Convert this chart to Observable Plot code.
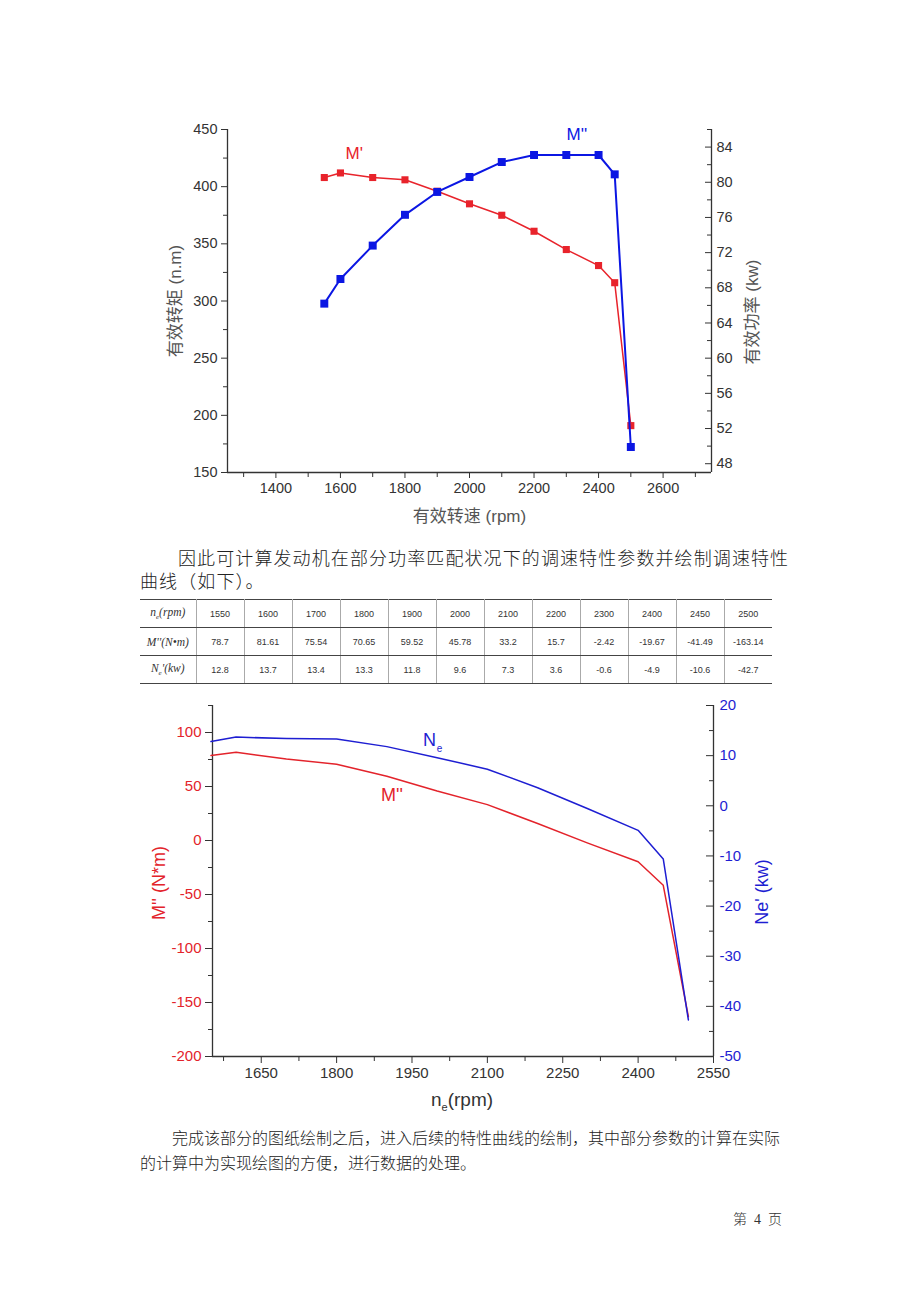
<!DOCTYPE html>
<html><head><meta charset="utf-8">
<script src="https://cdn.jsdelivr.net/npm/d3@7"></script>
<script src="https://cdn.jsdelivr.net/npm/@observablehq/plot@0.6"></script>
<style>
body{margin:0;background:#fff;}
#page{position:relative;width:920px;height:1302px;overflow:hidden;background:#fff;font-family:"Noto Sans CJK SC",sans-serif;color:#222;}
.abs{position:absolute;white-space:nowrap;}
.p1{font-size:18px;letter-spacing:1.1px;line-height:24px;font-weight:300;}
.p2{font-size:16px;line-height:22px;font-weight:300;}
#tbl{position:absolute;left:140px;top:599px;border-collapse:collapse;table-layout:fixed;}
#tbl td{height:27px;padding:0;text-align:center;font-family:"Liberation Sans",Arial,sans-serif;font-size:9px;color:#333;border-left:1px solid #aaa;border-right:1px solid #aaa;border-top:1px solid #444;border-bottom:1px solid #444;}
#tbl td.lab{font-family:"Liberation Serif","DejaVu Serif",serif;font-style:italic;font-size:11.5px;border-left:none;}
#tbl td:last-child{border-right:none;}
#tbl td sub{font-size:7px;}
#c2x{position:absolute;left:362px;width:200px;top:1089px;text-align:center;font-family:"Liberation Sans",Arial,sans-serif;font-size:19px;color:#333;}
#c2x sub{font-size:11px;}
#foot span{display:inline-block;}
</style></head>
<body><div id="page">
<div id="chart1" class="abs" style="left:0;top:100px;"></div>
<div class="abs p1" style="left:178px;top:545px;">因此可计算发动机在部分功率匹配状况下的调速特性参数并绘制调速特性</div>
<div class="abs p1" style="left:140px;top:568px;">曲线（如下）。</div>
<table id="tbl"></table>
<div id="chart2" class="abs" style="left:0;top:690px;"></div>
<div id="c2x">n<sub>e</sub>(rpm)</div>
<div class="abs p2" style="left:172px;top:1126px;">完成该部分的图纸绘制之后，进入后续的特性曲线的绘制，其中部分参数的计算在实际</div>
<div class="abs p2" style="left:140px;top:1151px;">的计算中为实现绘图的方便，进行数据的处理。</div>
<div id="foot" class="abs" style="left:733px;top:1208px;font-size:14px;color:#333;font-weight:300;"><span>第</span><span style="margin-left:7px;font-family:'Liberation Serif',serif;">4</span><span style="margin-left:7px;">页</span></div>
</div>
<script>
// ---------- data ----------
const rpm1 = [1550,1600,1700,1800,1900,2000,2100,2200,2300,2400,2450,2500];
const torque1 = [408,412,408,406,396,385,375,361,345,331,316,191];   // M' (n.m)
const power1 = [66.2,69.0,72.8,76.3,78.9,80.6,82.3,83.1,83.1,83.1,80.9,49.9]; // M'' (kw)

const rpm2 = [1550,1600,1700,1800,1900,2000,2100,2200,2300,2400,2450,2500];
const torque2 = [78.7,81.61,75.54,70.65,59.52,45.78,33.2,15.7,-2.42,-19.67,-41.49,-163.14];
const power2 = [12.8,13.7,13.4,13.3,11.8,9.6,7.3,3.6,-0.6,-4.9,-10.6,-42.7];

const x1Ticks = [1400,1600,1800,2000,2200,2400,2600];
const y1LeftTicks = [150,200,250,300,350,400,450];
const y1RightTicks = [48,52,56,60,64,68,72,76,80,84];
const x2Ticks = [1650,1800,1950,2100,2250,2400,2550];
const y2LeftTicks = [-200,-150,-100,-50,0,50,100];
const y2RightTicks = [-50,-40,-30,-20,-10,0,10,20];

const rowLabels = ["n<sub>e</sub>(rpm)", "M''(N&#8226;m)", "N<sub>e</sub>'(kw)"];

// ---------- table ----------
const tbl = document.getElementById("tbl");
const colg = document.createElement("colgroup");
colg.innerHTML = `<col style="width:56px">` + rpm2.map(()=>`<col style="width:48px">`).join("");
tbl.appendChild(colg);
[rpm2, torque2, power2].forEach((row, r) => {
  const tr = document.createElement("tr");
  tr.innerHTML = `<td class="lab">${rowLabels[r]}</td>` + row.map(v => `<td>${v}</td>`).join("");
  tbl.appendChild(tr);
});

const AX = "#333";
const FONT = "Liberation Sans, Arial, Noto Sans CJK SC, sans-serif";
const plain = d => String(d);

// ---------- chart 1 ----------
{
  const RED = "#e8232b", BLUE = "#0b16e3";
  const X = [1250, 2750], YL = [150, 450], YR = [47, 86];
  const toL = r => YL[0] + (r - YR[0]) * (YL[1] - YL[0]) / (YR[1] - YR[0]);
  const fromL = v => YR[0] + (v - YL[0]) * (YR[1] - YR[0]) / (YL[1] - YL[0]);
  const mL = 227, mR = 209, W = 920 - mL - mR;
  const data = rpm1.map((x, i) => ({rpm: x, torque: torque1[i], power: toL(power1[i])}));
  const xMinor = x1Ticks.map(t => t - 100).concat([2700]);
  const yLMinor = y1LeftTicks.slice(0, -1).map(t => t + 25);
  const yRMinor = y1RightTicks.map(t => t + 2);
  const blank = () => "";
  const chart = Plot.plot({
    width: 920, height: 440, marginLeft: mL, marginRight: mR, marginTop: 29, marginBottom: 68,
    x: {domain: X}, y: {domain: YL},
    style: {fontFamily: FONT, fontSize: "14.5px", color: "#333", background: "transparent", overflow: "visible"},
    marks: [
      Plot.ruleX([X[0]], {stroke: AX, strokeWidth: 1.3}),
      Plot.ruleX([X[1]], {stroke: AX, strokeWidth: 1.3}),
      Plot.ruleY([YL[0]], {stroke: AX, strokeWidth: 1.3}),
      Plot.axisX({ticks: x1Ticks, tickSize: 6, tickPadding: 4, tickFormat: plain, color: "#333", label: null}),
      Plot.axisX({ticks: xMinor, tickSize: 5, tickFormat: blank, color: AX, label: null}),
      Plot.axisY({ticks: y1LeftTicks, tickSize: 6, tickPadding: 4, tickFormat: plain, color: "#333", label: null}),
      Plot.axisY({ticks: yLMinor, tickSize: 4, tickFormat: blank, color: AX, label: null}),
      Plot.axisY({anchor: "left", dx: W, ticks: y1RightTicks.map(toL), tickSize: 6, tickFormat: blank, color: AX, label: null}),
      Plot.axisY({anchor: "left", dx: W, ticks: yRMinor.map(toL), tickSize: 4, tickFormat: blank, color: AX, label: null}),
      Plot.axisY({anchor: "right", ticks: y1RightTicks.map(toL), tickSize: 0, tickPadding: 5, color: "#333",
        tickFormat: v => String(Math.round(fromL(v))), label: null}),
      Plot.text(["有效转矩 (n.m)"], {text: d => d, frameAnchor: "left", textAnchor: "middle", rotate: -90, dx: -52, fontSize: 17, fill: "#555"}),
      Plot.text(["有效功率 (kw)"], {text: d => d, frameAnchor: "right", textAnchor: "middle", rotate: -90, dx: 41, dy: 11, fontSize: 17, fill: "#555"}),
      Plot.text(["有效转速 (rpm)"], {text: d => d, frameAnchor: "bottom", dy: 49, fontSize: 17, fill: "#555"}),
      Plot.line(data, {x: "rpm", y: "torque", stroke: RED, strokeWidth: 1.5}),
      Plot.dot(data, {x: "rpm", y: "torque", symbol: "square", r: 4, fill: RED}),
      Plot.line(data, {x: "rpm", y: "power", stroke: BLUE, strokeWidth: 2}),
      Plot.dot(data, {x: "rpm", y: "power", symbol: "square", r: 4.5, fill: BLUE}),
      Plot.text([{x: 1643, y: 429, t: "M'"}], {x: "x", y: "y", text: "t", fill: RED, fontSize: 17}),
      Plot.text([{x: 2333, y: 445.5, t: "M''"}], {x: "x", y: "y", text: "t", fill: BLUE, fontSize: 17})
    ]
  });
  document.getElementById("chart1").appendChild(chart);
}

// ---------- chart 2 ----------
{
  const RED = "#e3232b", BLUE = "#1e1ed2";
  const X = [1553, 2550], YL = [-200, 125], YR = [-50, 20];
  const toL = r => YL[0] + (r - YR[0]) * (YL[1] - YL[0]) / (YR[1] - YR[0]);
  const fromL = v => YR[0] + (v - YL[0]) * (YR[1] - YR[0]) / (YL[1] - YL[0]);
  const mL = 212, mR = 207, W = 920 - mL - mR;
  const data = rpm2.map((x, i) => ({rpm: x, m: torque2[i], n: toL(power2[i])}));
  const xMinor = x2Ticks.map(t => t - 75);
  const yLMinor = y2LeftTicks.map(t => t + 25);
  const yRMinor = y2RightTicks.slice(0, -1).map(t => t + 5);
  const blank = () => "";
  const chart = Plot.plot({
    width: 920, height: 430, marginLeft: mL, marginRight: mR, marginTop: 15, marginBottom: 64,
    x: {domain: X}, y: {domain: YL},
    style: {fontFamily: FONT, fontSize: "15px", color: "#333", background: "transparent", overflow: "visible"},
    marks: [
      Plot.ruleX([X[0]], {stroke: AX, strokeWidth: 1.3}),
      Plot.ruleX([X[1]], {stroke: AX, strokeWidth: 1.3}),
      Plot.ruleY([YL[0]], {stroke: AX, strokeWidth: 1.3}),
      Plot.axisX({ticks: x2Ticks, tickSize: 7, tickPadding: 4, tickFormat: plain, color: "#333", label: null}),
      Plot.axisX({ticks: xMinor, tickSize: 5, tickFormat: blank, color: AX, label: null}),
      Plot.axisY({ticks: y2LeftTicks, tickSize: 7, tickFormat: blank, color: AX, label: null}),
      Plot.axisY({ticks: y2LeftTicks, tickSize: 0, tickPadding: 11, tickFormat: plain, color: RED, label: null}),
      Plot.axisY({ticks: yLMinor, tickSize: 4, tickFormat: blank, color: AX, label: null}),
      Plot.axisY({anchor: "left", dx: W, ticks: y2RightTicks.map(toL), tickSize: 7, tickFormat: blank, color: AX, label: null}),
      Plot.axisY({anchor: "left", dx: W, ticks: yRMinor.map(toL), tickSize: 4, tickFormat: blank, color: AX, label: null}),
      Plot.axisY({anchor: "right", ticks: y2RightTicks.map(toL), tickSize: 0, tickPadding: 6, color: BLUE,
        tickFormat: v => String(Math.round(fromL(v))), label: null}),
      Plot.text(["M'' (N*m)"], {text: d => d, frameAnchor: "left", textAnchor: "middle", rotate: -90, dx: -53, dy: 2, fontSize: 18, fill: RED}),
      Plot.text(["Ne' (kw)"], {text: d => d, frameAnchor: "right", textAnchor: "middle", rotate: -90, dx: 49, dy: 11, fontSize: 18, fill: BLUE}),
      Plot.line(data, {x: "rpm", y: "m", stroke: RED, strokeWidth: 1.5}),
      Plot.line(data, {x: "rpm", y: "n", stroke: BLUE, strokeWidth: 1.5}),
      Plot.text([{x: 1985, y: 92.6, t: "N"}], {x: "x", y: "y", text: "t", fill: BLUE, fontSize: 18}),
      Plot.text([{x: 2005, y: 84.5, t: "e"}], {x: "x", y: "y", text: "t", fill: BLUE, fontSize: 10}),
      Plot.text([{x: 1910, y: 41.6, t: "M''"}], {x: "x", y: "y", text: "t", fill: RED, fontSize: 18})
    ]
  });
  document.getElementById("chart2").appendChild(chart);
}
</script>
</body></html>
